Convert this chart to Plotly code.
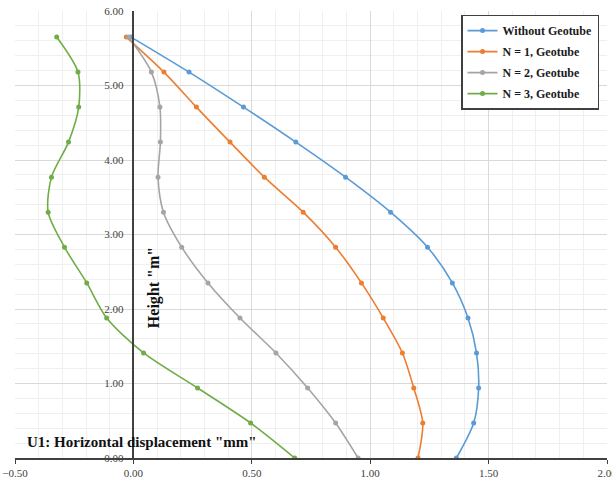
import plotly.graph_objects as go

# Heights of the measurement points along the wall (m)
heights = [0.00, 0.47, 0.94, 1.41, 1.88, 2.35, 2.83, 3.30, 3.77, 4.24, 4.71, 5.18, 5.65]

# Horizontal displacement U1 (mm) at each height, bottom to top
u_without = [1.364, 1.437, 1.458, 1.449, 1.413, 1.347, 1.242, 1.086, 0.896, 0.686, 0.465, 0.235, -0.01]
u_n1 = [1.202, 1.222, 1.184, 1.136, 1.055, 0.963, 0.854, 0.717, 0.553, 0.408, 0.266, 0.129, -0.03]
u_n2 = [0.949, 0.854, 0.736, 0.602, 0.450, 0.315, 0.204, 0.127, 0.104, 0.114, 0.112, 0.076, -0.02]
u_n3 = [0.681, 0.495, 0.271, 0.043, -0.113, -0.197, -0.291, -0.360, -0.346, -0.274, -0.231, -0.234, -0.324]

series_names = ["Without Geotube", "N = 1, Geotube", "N = 2, Geotube", "N = 3, Geotube"]
series_values = [u_without, u_n1, u_n2, u_n3]
series_colors = ["#5B9BD5", "#ED7D31", "#A5A5A5", "#70AD47"]

SERIF = "Liberation Serif"

fig = go.Figure()
for name, vals, col in zip(series_names, series_values, series_colors):
    fig.add_trace(go.Scatter(
        x=vals, y=heights, name=name, legendgroup=name,
        mode="lines+markers",
        line=dict(color=col, width=1.6, shape="spline", smoothing=0.8),
        marker=dict(color=col, size=5),
    ))

x_range = [-0.5, 2.0]
y_axis_pos = (0 - x_range[0]) / (x_range[1] - x_range[0])

fig.update_layout(
    width=612, height=479,
    margin=dict(l=15, r=5, t=11, b=21, autoexpand=False),
    paper_bgcolor="white", plot_bgcolor="white",
    showlegend=True,
    legend=dict(
        x=0.9865, y=0.992, xanchor="right", yanchor="top",
        bgcolor="white", bordercolor="#404040", borderwidth=1.5,
        font=dict(family=SERIF, size=12, color="#1a1a1a", weight="bold"),
        itemwidth=30, tracegroupgap=2,
    ),
    xaxis=dict(
        range=x_range, dtick=0.5, tickformat=".2f", automargin=False,
        showgrid=True, gridcolor="#d9d9d9", gridwidth=1,
        minor=dict(dtick=0.1, showgrid=True, gridcolor="#efefef", gridwidth=1),
        showline=True, linecolor="#404040", linewidth=1.5,
        ticks="outside", ticklen=4, tickcolor="#404040",
        ticklabelstandoff=0, ticklabeloverflow="allow",
        zeroline=False,
        tickfont=dict(family=SERIF, size=11, color="#404040"),
    ),
    yaxis=dict(
        range=[0, 6], dtick=1, tickformat=".2f", automargin=False,
        anchor="free", position=y_axis_pos,
        showgrid=True, gridcolor="#d9d9d9", gridwidth=1,
        minor=dict(dtick=0.2, showgrid=True, gridcolor="#efefef", gridwidth=1),
        showline=True, linecolor="#404040", linewidth=1.5,
        ticks="", zeroline=False, ticklabelstandoff=7,
        tickfont=dict(family=SERIF, size=11, color="#404040"),
    ),
)

fig.add_annotation(
    text='Height "m"', xref="x", yref="y", x=0.087, y=2.28,
    textangle=-90, showarrow=False,
    font=dict(family=SERIF, size=16, color="#111111", weight="bold"),
)
fig.add_annotation(
    text='U1: Horizontal displacement "mm"', xref="x", yref="y", x=0.037, y=0.22,
    showarrow=False,
    font=dict(family=SERIF, size=15, color="#111111", weight="bold"),
)

fig.write_html("out.html")
